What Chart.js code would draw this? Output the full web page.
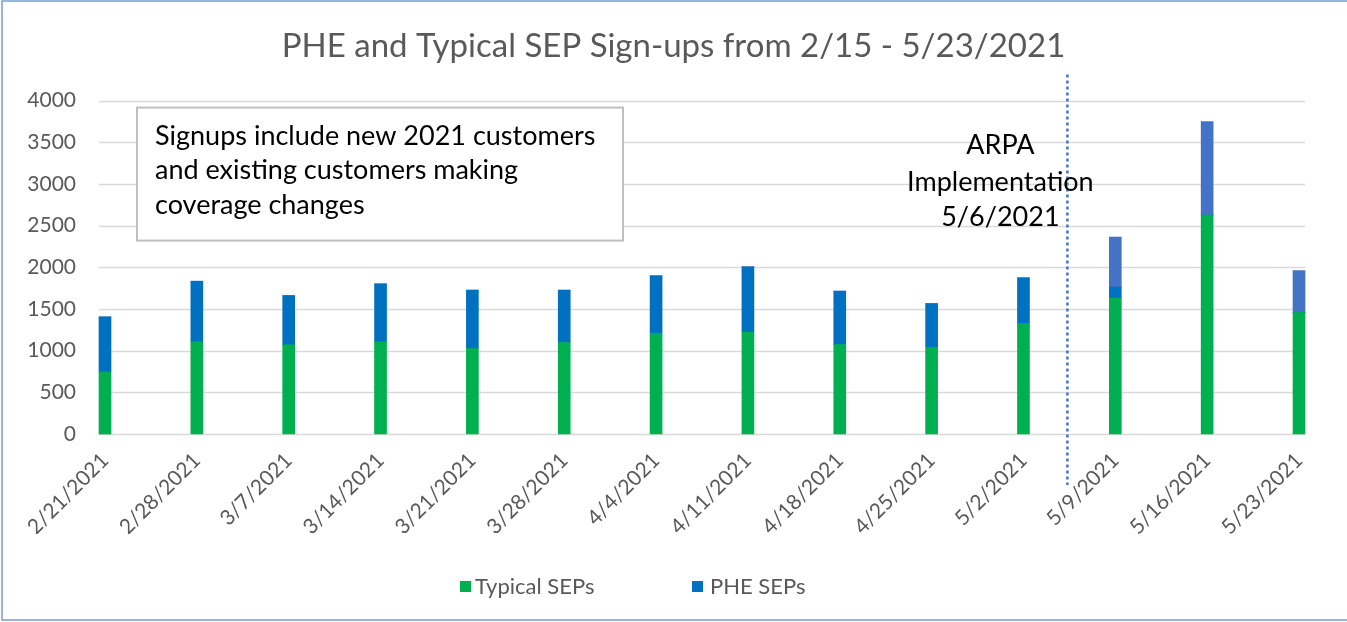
<!DOCTYPE html>
<html>
<head>
<meta charset="utf-8">
<script src="https://cdn.jsdelivr.net/npm/chart.js@4/dist/chart.umd.min.js"></script>
<style>
  html, body { margin: 0; padding: 0; background: #fff; }
  #wrap { width: 1347px; height: 622px; position: relative; }
</style>
</head>
<body>
<div id="wrap"><canvas id="myChart" width="1347" height="622"></canvas></div>
<script>
// week-ending dates
const weeks = ["2/21/2021", "2/28/2021", "3/7/2021", "3/14/2021", "3/21/2021", "3/28/2021", "4/4/2021",
  "4/11/2021", "4/18/2021", "4/25/2021", "5/2/2021", "5/9/2021", "5/16/2021", "5/23/2021"]
const typicalSeps = [745, 1105, 1069, 1105, 1025, 1097, 1209, 1221, 1073, 1041, 1329, 1630, 2627, 1457]
const pheSeps = [660, 728, 592, 696, 701, 629, 689, 785, 641, 524, 545, 132, 0, 0]
// PHE sign-ups after ARPA went live (drawn lighter)
const pheSepsArpa = [0, 0, 0, 0, 0, 0, 0, 0, 0, 0, 0, 601, 1120, 504]
const yTicks = [0, 500, 1000, 1500, 2000, 2500, 3000, 3500, 4000]

const FONT = "Lato, 'Liberation Sans', sans-serif"
const GREY = "#595959"

const extras = {
  id: "extras",
  beforeDatasetsDraw(chart) {
    const {ctx, chartArea: a, scales: {y}} = chart
    ctx.save()
    ctx.strokeStyle = "#D9D9D9"
    ctx.lineWidth = 1.5
    yTicks.forEach(t => {
      const py = Math.round(y.getPixelForValue(t)) + 0.5
      ctx.beginPath()
      ctx.moveTo(a.left - 6, py)
      ctx.lineTo(a.right + 6, py)
      ctx.stroke()
    })
    ctx.restore()
  },
  afterDraw(chart) {
    const {ctx, chartArea: a, scales: {x}} = chart
    ctx.save()

    // frame
    ctx.strokeStyle = "#7A9CD6"
    ctx.lineWidth = 1.5
    ctx.beginPath()
    ctx.moveTo(chart.width, 1)
    ctx.lineTo(2, 1)
    ctx.lineTo(2, chart.height - 2)
    ctx.lineTo(chart.width, chart.height - 2)
    ctx.stroke()

    // ARPA marker
    const lx = (x.getPixelForValue(10) + x.getPixelForValue(11)) / 2 - 2
    ctx.strokeStyle = "#4472C4"
    ctx.lineWidth = 2.5
    ctx.setLineDash([3, 3])
    ctx.beginPath()
    ctx.moveTo(lx, a.top - 26)
    ctx.lineTo(lx, a.bottom + 51)
    ctx.stroke()
    ctx.setLineDash([])

    ctx.fillStyle = "#000"
    ctx.font = "27px " + FONT
    ctx.textAlign = "center"
    ctx.textBaseline = "middle"
    ctx.fillText("ARPA", lx - 67, 145)
    ctx.fillText("Implementation", lx - 67, 182)
    ctx.fillText("5/6/2021", lx - 67, 217)

    // note box
    const bx = a.left + 32, by = a.top + 7
    ctx.fillStyle = "#fff"
    ctx.fillRect(bx, by, 486, 133)
    ctx.strokeStyle = "#BFBFBF"
    ctx.lineWidth = 2
    ctx.strokeRect(bx, by, 486, 133)
    ctx.fillStyle = "#000"
    ctx.textAlign = "left"
    ctx.fillText("Signups include new 2021 customers", bx + 18, by + 29)
    ctx.fillText("and existing customers making", bx + 18, by + 63)
    ctx.fillText("coverage changes", bx + 18, by + 98)

    // legend
    ctx.font = "22px " + FONT
    ctx.fillStyle = "#00B050"
    ctx.fillRect(460, 581, 11, 11)
    ctx.fillStyle = "#0070C0"
    ctx.fillRect(692, 581, 11, 11)
    ctx.fillStyle = GREY
    ctx.fillText(chart.data.datasets[0].label, 475, 587)
    ctx.fillText(chart.data.datasets[1].label, 710, 587)
    ctx.restore()
  }
}

window.onload = function(){
  const ctx = document.getElementById("myChart")
  new Chart(ctx, {
    type: "bar",
    data: {
      labels: weeks,
      datasets: [{
        label: "Typical SEPs",
        data: typicalSeps,
        backgroundColor: "#00B050",
        barThickness: 12,
        clip: false
      }, {
        label: "PHE SEPs",
        data: pheSeps,
        backgroundColor: "#0070C0",
        barThickness: 12,
        clip: false
      }, {
        label: "PHE SEPs after ARPA",
        data: pheSepsArpa,
        backgroundColor: "#4472C4",
        barThickness: 12,
        clip: false
      }]
    },
    plugins: [extras],
    options: {
      responsive: false,
      animation: false,
      layout: {padding: {top: 0, left: 0, right: 0, bottom: 88}},
      plugins: {
        legend: {display: false},
        tooltip: {enabled: false},
        title: {
          display: true,
          text: "PHE and Typical SEP Sign-ups from 2/15 - 5/23/2021",
          color: GREY,
          font: {family: FONT, size: 33, weight: "normal"},
          padding: {top: 27, bottom: 34}
        }
      },
      scales: {
        x: {
          stacked: true,
          offset: false,
          grid: {display: false},
          border: {display: false},
          ticks: {
            color: GREY,
            font: {family: FONT, size: 21},
            minRotation: 45,
            maxRotation: 45,
            autoSkip: false,
            padding: 6
          },
          afterFit(scale) { scale.height = 100 }
        },
        y: {
          stacked: true,
          min: 0,
          max: 4000,
          grid: {display: false},
          border: {display: false},
          ticks: {
            stepSize: 500,
            color: GREY,
            font: {family: FONT, size: 21},
            padding: 21,
            callback: v => String(v)
          },
          afterFit(scale) { scale.width = 105 }
        },
        // empty right-hand gutter so the title stays centred on the canvas
        gutter: {
          position: "right",
          display: true,
          grid: {display: false},
          border: {display: false},
          ticks: {display: false},
          afterFit(scale) { scale.width = 48 }
        }
      }
    }
  })
}
</script>
</body>
</html>
